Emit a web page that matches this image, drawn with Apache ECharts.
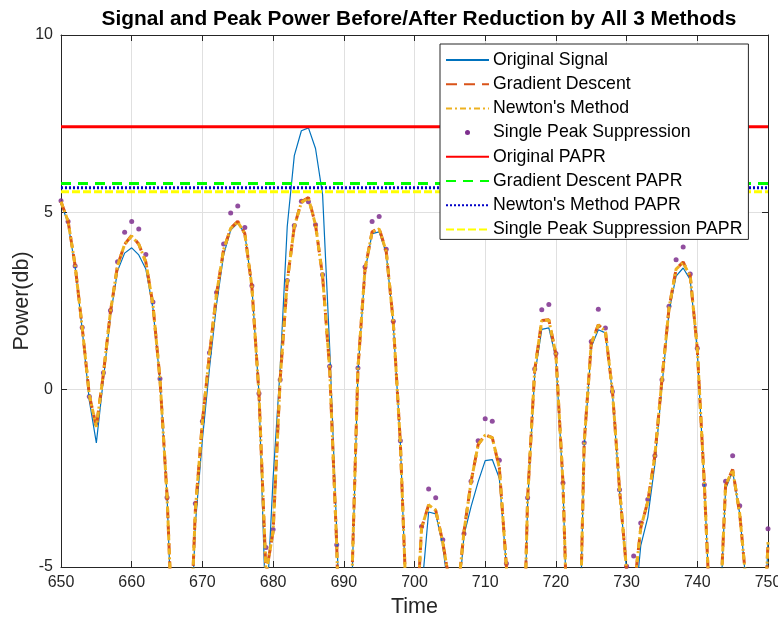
<!DOCTYPE html>
<html>
<head>
<meta charset="utf-8">
<script src="https://cdn.jsdelivr.net/npm/echarts@6/dist/echarts.min.js"></script>
<style>
  html, body { margin: 0; padding: 0; background: #ffffff; }
  #chart { width: 778px; height: 621px; }
</style>
</head>
<body>
<div id="chart"></div>
<script>
// Sample times 650 ... 750, one sample per time unit
const timeStart = 650;

// Power (dB) of the original signal
const originalSignal = [
  5.25, 4.7, 3.45, 1.7, -0.3, -1.5, 0.3, 2.1, 3.35, 3.85,      // 650-659
  4.0, 3.8, 3.4, 2.3, 0.25, -3.0, -8.5, -12, -9, -3.8,         // 660-669
  -1.4, 0.6, 2.4, 3.8, 4.5, 4.7, 4.4, 2.9, -0.1, -6.5,         // 670-679
  -2.5, 0.6, 4.6, 6.6, 7.3, 7.38, 6.8, 5.5, 1.2, -4.0,         // 680-689
  -10, -6.6, 0.5, 3.35, 4.4, 4.45, 3.85, 1.85, -1.5, -7,       // 690-699
  -8, -5.7, -3.45, -3.5, -4.4, -6, -6.5, -4.1, -3.3, -2.6,     // 700-709
  -2.0, -1.97, -2.5, -5.0, -10, -11, -3.2, 0.4, 1.7, 1.74,     // 710-719
  0.9, -2.7, -9.4, -10.5, -1.6, 1.2, 1.69, 1.6, -0.1, -2.85,   // 720-729
  -5.1, -6.5, -4.4, -3.6, -2.1, 0.1, 2.2, 3.2, 3.43, 3.1,      // 730-739
  1.1, -2.7, -7.3, -7.3, -2.8, -2.3, -3.5, -5.7, -11, -9,      // 740-749
  -4.3                                                         // 750
];

// Power (dB) after gradient-descent reduction
const gradientDescent = [
  5.3, 4.75, 3.5, 1.75, -0.15, -1.05, 0.45, 2.2, 3.5, 4.1,
  4.35, 4.1, 3.6, 2.4, 0.3, -3.0, -8, -12, -8.7, -3.4,
  -0.9, 1.0, 2.7, 3.95, 4.55, 4.75, 4.4, 2.9, -0.1, -5.2,
  -4.0, 0.3, 3.05, 4.6, 5.3, 5.42, 4.65, 3.2, 0.6, -4.4,
  -12, -6.4, 0.6, 3.4, 4.45, 4.55, 3.9, 1.9, -1.5, -6.9,
  -7.6, -3.9, -3.25, -3.4, -4.3, -5.5, -6, -4.0, -2.6, -1.55,
  -1.27, -1.35, -2.2, -5.0, -10, -11, -3.05, 0.55, 1.95, 1.97,
  1.0, -2.63, -9.4, -10.5, -1.5, 1.3, 1.83, 1.65, -0.05, -2.8,
  -5.1, -5.73, -3.9, -3.15, -1.86, 0.28, 2.3, 3.4, 3.6, 3.2,
  1.15, -2.68, -7.3, -7.3, -2.7, -2.25, -3.5, -5.64, -11, -9,
  -4.3
];

// Power (dB) after Newton's-method reduction
const newtonMethod = [
  5.3, 4.75, 3.5, 1.75, -0.15, -1.05, 0.45, 2.2, 3.5, 4.1,
  4.33, 4.1, 3.6, 2.4, 0.3, -3.0, -8, -12, -8.7, -3.4,
  -0.9, 1.0, 2.7, 3.95, 4.55, 4.73, 4.4, 2.9, -0.1, -5.2,
  -4.0, 0.3, 3.05, 4.6, 5.28, 5.4, 4.65, 3.2, 0.6, -4.4,
  -12, -6.4, 0.6, 3.4, 4.45, 4.53, 3.9, 1.9, -1.5, -6.9,
  -7.6, -3.9, -3.25, -3.4, -4.3, -5.5, -6, -4.0, -2.6, -1.55,
  -1.28, -1.35, -2.2, -5.0, -10, -11, -3.05, 0.55, 1.95, 1.96,
  1.0, -2.63, -9.4, -10.5, -1.5, 1.3, 1.82, 1.65, -0.05, -2.8,
  -5.1, -5.73, -3.9, -3.15, -1.86, 0.28, 2.3, 3.4, 3.58, 3.2,
  1.15, -2.68, -7.3, -7.3, -2.7, -2.26, -3.5, -5.64, -11, -9,
  -4.3
];

// Power (dB) after single-peak suppression
const singlePeakSuppression = [
  5.33, 4.74, 3.49, 1.75, -0.19, -0.95, 0.48, 2.23, 3.61, 4.44,
  4.74, 4.53, 3.81, 2.47, 0.31, -3.04, -8, -12, -8.7, -3.21,
  -0.89, 1.04, 2.74, 4.11, 4.98, 5.18, 4.57, 2.93, -0.11, -4.45,
  -3.94, 0.28, 3.08, 4.63, 5.31, 5.3, 4.65, 3.24, 0.66, -4.37,
  -12, -6.4, 0.61, 3.46, 4.74, 4.88, 3.96, 1.93, -1.44, -6.9,
  -7.6, -3.86, -2.8, -3.05, -4.23, -5.5, -6, -4.06, -2.58, -1.44,
  -0.82, -0.89, -1.99, -4.9, -10, -11, -3.05, 0.58, 2.25, 2.4,
  1.02, -2.63, -9.4, -10.5, -1.5, 1.36, 2.27, 1.74, -0.05, -2.82,
  -4.98, -4.69, -3.76, -3.1, -1.86, 0.28, 2.35, 3.66, 4.02, 3.26,
  1.17, -2.68, -7.3, -7.3, -2.58, -1.86, -3.27, -5.64, -11, -9,
  -3.92
];

// Peak power levels (dB)
const paprOriginal = 7.41;
const paprGradientDescent = 5.81;
const paprNewton = 5.69;
const paprSinglePeak = 5.58;

// Axis ranges and tick steps
const xRange = [650, 750];
const xStep = 10;
const yRange = [-5, 10];
const yStep = 5;

const seriesNames = [
  'Original Signal', 'Gradient Descent', "Newton's Method", 'Single Peak Suppression',
  'Original PAPR', 'Gradient Descent PAPR', "Newton's Method PAPR", 'Single Peak Suppression PAPR'
];

const toPoints = arr => arr.map((v, i) => [timeStart + i, v]);
const flatLine = level => [[xRange[0], level], [xRange[1], level]];

const FONT = "'Liberation Sans', Arial, Helvetica, sans-serif";
const AX = '#262626';

const chart = echarts.init(document.getElementById('chart'), null, { renderer: 'canvas' });

const valueAxisCommon = {
  type: 'value',
  axisLine: { show: true, onZero: false, lineStyle: { color: AX, width: 1 } },
  axisTick: { show: true, inside: true, length: 6, lineStyle: { color: AX } },
  minorTick: { show: false }
};

// Legend entries: line samples only (no centre marker), dots for the scatter entry
const legendData = seriesNames.map((name, i) => (
  i === 3 ? { name: name, itemStyle: { opacity: 1 } } : { name: name, itemStyle: { opacity: 0 } }
));

chart.setOption({
  animation: false,
  backgroundColor: '#ffffff',
  title: {
    text: 'Signal and Peak Power Before/After Reduction by All 3 Methods',
    left: 414, textAlign: 'center', top: 4,
    textStyle: { fontFamily: FONT, fontSize: 20.9, fontWeight: 'bold', color: '#000' }
  },
  grid: { left: 61, right: 10, top: 35, bottom: 54, containLabel: false, outerBoundsMode: 'none' },
  legend: {
    orient: 'vertical',
    left: 440, top: 44,
    padding: [7, 6, 1, 5],
    itemWidth: 43, itemHeight: 5, itemGap: 6.2,
    backgroundColor: '#ffffff',
    borderColor: AX, borderWidth: 1, borderRadius: 0,
    textStyle: { fontFamily: FONT, fontSize: 17.7, lineHeight: 18, color: '#000', padding: [0, 0, 0, -1] },
    data: legendData
  },
  xAxis: [
    Object.assign({}, valueAxisCommon, {
      position: 'bottom', min: xRange[0], max: xRange[1], interval: xStep,
      name: 'Time', nameLocation: 'middle', nameGap: 29, nameMoveOverlap: false,
      nameTextStyle: { fontFamily: FONT, fontSize: 21.5, color: AX },
      axisLabel: { show: true, margin: 8, fontFamily: FONT, fontSize: 16, color: AX },
      splitLine: { show: true, lineStyle: { color: '#e0e0e0', width: 1 } }
    }),
    Object.assign({}, valueAxisCommon, {
      position: 'top', min: xRange[0], max: xRange[1], interval: xStep,
      axisLabel: { show: false }, splitLine: { show: false }
    })
  ],
  yAxis: [
    Object.assign({}, valueAxisCommon, {
      position: 'left', min: yRange[0], max: yRange[1], interval: yStep,
      name: 'Power(db)', nameLocation: 'middle', nameGap: 28, nameRotate: 90, nameMoveOverlap: false,
      nameTextStyle: { fontFamily: FONT, fontSize: 21.5, color: AX },
      axisLabel: { show: true, margin: 8, fontFamily: FONT, fontSize: 16, color: AX },
      splitLine: { show: true, lineStyle: { color: '#e0e0e0', width: 1 } }
    }),
    Object.assign({}, valueAxisCommon, {
      position: 'right', min: yRange[0], max: yRange[1], interval: yStep,
      axisLabel: { show: false }, splitLine: { show: false }
    })
  ],
  series: [
    {
      name: seriesNames[0], type: 'line', data: toPoints(originalSignal),
      symbol: 'none', clip: true,
      lineStyle: { color: '#0072BD', width: 1.2 }, itemStyle: { color: '#0072BD' }
    },
    {
      name: seriesNames[1], type: 'line', data: toPoints(gradientDescent),
      symbol: 'none', clip: true,
      lineStyle: { color: '#D95319', width: 3, type: [11, 7] }, itemStyle: { color: '#D95319' }
    },
    {
      name: seriesNames[2], type: 'line', data: toPoints(newtonMethod),
      symbol: 'none', clip: true,
      lineStyle: { color: '#EDB120', width: 3, type: [6, 3, 2, 3] }, itemStyle: { color: '#EDB120' }
    },
    {
      name: seriesNames[3], type: 'scatter', data: toPoints(singlePeakSuppression),
      symbol: 'circle', symbolSize: 5, clip: true,
      itemStyle: { color: '#7E2F8E', opacity: 0.85 }
    },
    {
      name: seriesNames[4], type: 'line', data: flatLine(paprOriginal),
      symbol: 'none', clip: true,
      lineStyle: { color: '#FF0000', width: 3 }, itemStyle: { color: '#FF0000' }
    },
    {
      name: seriesNames[5], type: 'line', data: flatLine(paprGradientDescent),
      symbol: 'none', clip: true,
      lineStyle: { color: '#00FF00', width: 3, type: [10, 7] }, itemStyle: { color: '#00FF00' }
    },
    {
      name: seriesNames[6], type: 'line', data: flatLine(paprNewton),
      symbol: 'none', clip: true,
      lineStyle: { color: '#0000C8', width: 3, type: [2, 2] }, itemStyle: { color: '#0000C8' }
    },
    {
      name: seriesNames[7], type: 'line', data: flatLine(paprSinglePeak),
      symbol: 'none', clip: true,
      lineStyle: { color: '#FFFF00', width: 3, type: [8, 3] }, itemStyle: { color: '#FFFF00' }
    }
  ]
});
</script>
</body>
</html>
